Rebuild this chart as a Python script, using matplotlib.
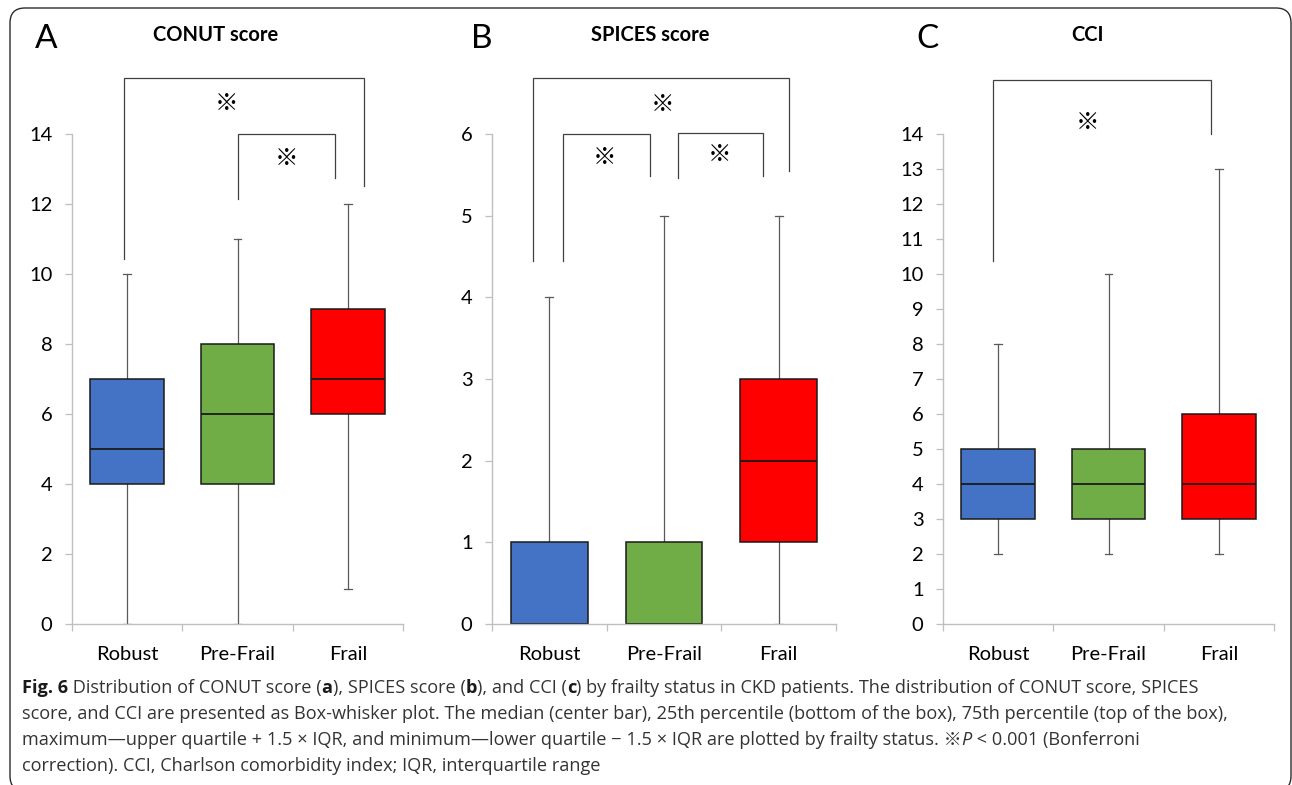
import matplotlib as mpl
mpl.use("Agg")
import matplotlib.pyplot as plt
from matplotlib.patches import FancyBboxPatch

W, H = 1292, 785

groups = ["Robust", "Pre-Frail", "Frail"]
box_colors = ["#4472C4", "#70AD47", "#FF0000"]

# five-number summaries per group: min, q1, median, q3, max
conut_min = [0, 0, 1]
conut_q1 = [4, 4, 6]
conut_med = [5, 6, 7]
conut_q3 = [7, 8, 9]
conut_max = [10, 11, 12]

spices_min = [0, 0, 0]
spices_q1 = [0, 0, 1]
spices_med = [0, 0, 2]
spices_q3 = [1, 1, 3]
spices_max = [4, 5, 5]

cci_min = [2, 2, 2]
cci_q1 = [3, 3, 3]
cci_med = [4, 4, 4]
cci_q3 = [5, 5, 6]
cci_max = [8, 10, 13]

# significance brackets: (x_left, x_right, y_top, y_left_end, y_right_end)
conut_brackets = [(-0.03, 2.15, 15.6, 10.42, 12.52), (1.0, 1.88, 14.0, 12.14, 12.73)]
conut_stars = [(0.9, 14.86), (1.44, 13.29)]
spices_brackets = [(-0.14, 2.09, 6.69, 4.44, 5.55), (0.12, 0.88, 6.0, 4.44, 5.48),
                   (1.12, 1.86, 6.01, 5.46, 5.48)]
spices_stars = [(0.99, 6.36), (0.48, 5.71), (1.48, 5.75)]
cci_brackets = [(-0.05, 1.93, 15.55, 10.37, 14.0)]
cci_stars = [(0.81, 14.32)]

panels = [
    dict(letter="A", title="CONUT score", stats=(conut_min, conut_q1, conut_med, conut_q3, conut_max),
         ymax=14, ystep=2, brackets=conut_brackets, stars=conut_stars,
         rect=(72, 403), letter_x=46, title_x=216),
    dict(letter="B", title="SPICES score", stats=(spices_min, spices_q1, spices_med, spices_q3, spices_max),
         ymax=6, ystep=1, brackets=spices_brackets, stars=spices_stars,
         rect=(492, 836), letter_x=482, title_x=650),
    dict(letter="C", title="CCI", stats=(cci_min, cci_q1, cci_med, cci_q3, cci_max),
         ymax=14, ystep=1, brackets=cci_brackets, stars=cci_stars,
         rect=(943, 1274), letter_x=928, title_x=1088),
]

CHART_FONT = ["Lato", "DejaVu Sans"]
STAR_FONT = ["Noto Sans CJK JP", "DejaVu Sans"]
CAP_FONT = ["Open Sans", "Noto Sans CJK JP", "DejaVu Sans"]

fig = plt.figure(figsize=(W / 100, H / 100), dpi=100)
fig.patch.set_facecolor("white")

axis_grey = "#BFBFBF"
line_grey = "#595959"
y_top_px, y_bot_px = 134, 624

for p in panels:
    x0, x1 = p["rect"]
    ax = fig.add_axes([x0 / W, (H - y_bot_px) / H, (x1 - x0) / W, (y_bot_px - y_top_px) / H])
    mins, q1s, meds, q3s, maxs = p["stats"]
    stats = [dict(whislo=a, q1=b, med=c, q3=d, whishi=e, label=g)
             for a, b, c, d, e, g in zip(mins, q1s, meds, q3s, maxs, groups)]
    bp = ax.bxp(stats, positions=range(3), widths=0.67, capwidths=0.07, showfliers=False,
                patch_artist=True,
                boxprops=dict(edgecolor="#1a1a1a", linewidth=1.1),
                medianprops=dict(color="#1a1a1a", linewidth=1.3),
                whiskerprops=dict(color=line_grey, linewidth=0.9),
                capprops=dict(color=line_grey, linewidth=0.9))
    for patch, c in zip(bp["boxes"], box_colors):
        patch.set_facecolor(c)
        patch.set_zorder(3)
    for m in bp["medians"]:
        m.set_zorder(4)

    ax.set_xlim(-0.5, 2.5)
    ax.set_ylim(0, p["ymax"])
    ax.set_yticks(range(0, p["ymax"] + 1, p["ystep"]))
    ax.set_xticks(range(3))
    ax.set_xticklabels(groups)
    ax.set_xticks([-0.5, 0.5, 1.5, 2.5], minor=True)
    ax.tick_params(axis="x", which="major", length=0, pad=16, labelsize=14.5)
    ax.tick_params(axis="x", which="minor", length=5, width=0.9, color=axis_grey, direction="out")
    ax.tick_params(axis="y", length=5, width=0.9, color=axis_grey, direction="out",
                   pad=9, labelsize=14.5)
    for lbl in ax.get_xticklabels() + ax.get_yticklabels():
        lbl.set_family(CHART_FONT)
    for s in ("top", "right"):
        ax.spines[s].set_visible(False)
    for s in ("left", "bottom"):
        ax.spines[s].set_color(axis_grey)
        ax.spines[s].set_linewidth(1.0)
    ax.spines["bottom"].set_zorder(5)

    for xl, xr, yt, yle, yre in p["brackets"]:
        ax.plot([xl, xl, xr, xr], [yle, yt, yt, yre], color="#404040", linewidth=0.9,
                clip_on=False, solid_joinstyle="miter")
    for sx, sy in p["stars"]:
        ax.text(sx, sy, "※", ha="center", va="center", fontsize=17, family=STAR_FONT,
                clip_on=False)

    fig.text(p["letter_x"] / W, 1 - 39 / H, p["letter"], ha="center", va="center",
             fontsize=24, family=CHART_FONT)
    fig.text(p["title_x"] / W, 1 - 35 / H, p["title"], ha="center", va="center",
             fontsize=14.5, fontweight="bold", family=CHART_FONT)

# caption
caption_lines = [
    [("Fig. 6", "bold"), (" Distribution of CONUT score (", ""), ("a", "bold"),
     ("), SPICES score (", ""), ("b", "bold"), ("), and CCI (", ""), ("c", "bold"),
     (") by frailty status in CKD patients. The distribution of CONUT score, SPICES", "")],
    [("score, and CCI are presented as Box-whisker plot. The median (center bar), 25th percentile "
      "(bottom of the box), 75th percentile (top of the box),", "")],
    [("maximum\u2014upper quartile + 1.5 \u00d7 IQR, and minimum\u2014lower quartile \u2212 1.5 \u00d7 "
      "IQR are plotted by frailty status. \u203b", ""), ("P", "italic"),
     (" < 0.001 (Bonferroni", "")],
    [("correction). CCI, Charlson comorbidity index; IQR, interquartile range", "")],
]
caption_baselines = [693, 719, 745, 771]

renderer = fig.canvas.get_renderer()
for parts, base in zip(caption_lines, caption_baselines):
    x = 22
    for s, style in parts:
        t = fig.text(x / W, 1 - base / H, s, fontsize=13.1, family=CAP_FONT,
                     fontweight="bold" if style == "bold" else "normal",
                     fontstyle="italic" if style == "italic" else "normal",
                     color="#1a1a1a" if style == "bold" else "#333333",
                     va="baseline", ha="left")
        x += t.get_window_extent(renderer).width

# rounded frame around the figure (bottom edge falls just below the image)
frame = FancyBboxPatch((10 / 100, -6 / 100), (1291 - 10) / 100, (777 + 6) / 100,
                       boxstyle="round,pad=0,rounding_size=0.15",
                       transform=fig.dpi_scale_trans, fill=False,
                       edgecolor="#2b2b2b", linewidth=1.0)
fig.add_artist(frame)

fig.savefig("out.png", dpi=100)
